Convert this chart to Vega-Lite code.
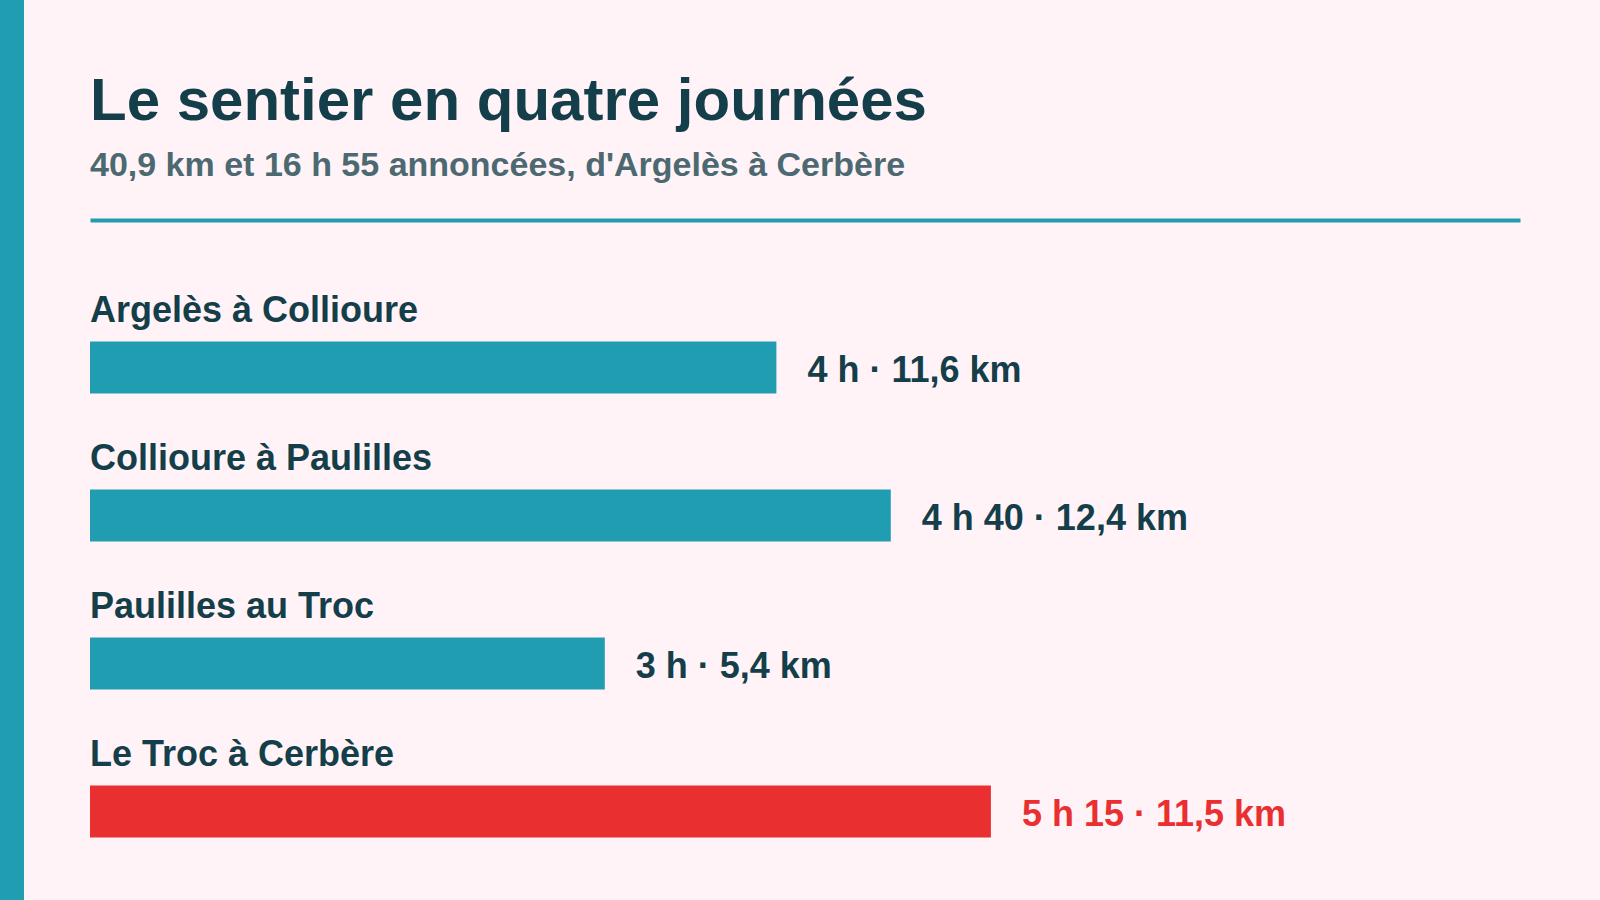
{
  "$schema": "https://vega.github.io/schema/vega-lite/v6.json",
  "background": "#fff3f7",
  "padding": {"left": 0, "top": 0, "right": 80, "bottom": 0},
  "config": {
    "view": {"stroke": null},
    "font": "Liberation Sans"
  },
  "data": {
    "values": [
      {"etape": "Argelès à Collioure", "minutes": 240, "libelle": "4 h · 11,6 km", "plus_longue": "non"},
      {"etape": "Collioure à Paulilles", "minutes": 280, "libelle": "4 h 40 · 12,4 km", "plus_longue": "non"},
      {"etape": "Paulilles au Troc", "minutes": 180, "libelle": "3 h · 5,4 km", "plus_longue": "non"},
      {"etape": "Le Troc à Cerbère", "minutes": 315, "libelle": "5 h 15 · 11,5 km", "plus_longue": "oui"}
    ]
  },
  "spacing": 66,
  "hconcat": [
    {
      "width": 24,
      "height": 900,
      "view": {"fill": "#219db2", "stroke": null},
      "mark": {"type": "point", "opacity": 0},
      "encoding": {}
    },
    {
      "width": 1430,
      "height": 900,
      "title": {
        "text": "Le sentier en quatre journées",
        "subtitle": "40,9 km et 16 h 55 annoncées, d'Argelès à Cerbère",
        "anchor": "start",
        "frame": "group",
        "fontSize": 60,
        "fontWeight": "bold",
        "color": "#143e49",
        "subtitleFontSize": 34,
        "subtitleFontWeight": "bold",
        "subtitleColor": "#4c6971",
        "subtitlePadding": 16,
        "offset": -184
      },
      "encoding": {
        "y": {
          "field": "etape",
          "type": "nominal",
          "sort": null,
          "axis": null,
          "scale": {"range": [293.5, 885.5], "paddingInner": 0, "paddingOuter": 0}
        }
      },
      "layer": [
        {
          "mark": {"type": "bar", "size": 52},
          "encoding": {
            "x": {
              "field": "minutes",
              "type": "quantitative",
              "scale": {"domain": [0, 500], "nice": false},
              "axis": {
                "orient": "top",
                "domain": true,
                "domainColor": "#219db2",
                "domainWidth": 4,
                "ticks": false,
                "labels": false,
                "grid": false,
                "title": null,
                "offset": -220
              }
            },
            "color": {
              "condition": {"test": "datum.plus_longue == 'oui'", "value": "#e92f30"},
              "value": "#219db2"
            }
          }
        },
        {
          "mark": {"type": "text", "align": "left", "baseline": "alphabetic", "dx": 31, "dy": 14, "fontSize": 36, "fontWeight": "bold"},
          "encoding": {
            "x": {"field": "minutes", "type": "quantitative"},
            "text": {"field": "libelle"},
            "color": {
              "condition": {"test": "datum.plus_longue == 'oui'", "value": "#e92f30"},
              "value": "#143e49"
            }
          }
        },
        {
          "mark": {"type": "text", "align": "left", "baseline": "alphabetic", "dy": -46, "fontSize": 36, "fontWeight": "bold", "color": "#143e49"},
          "encoding": {
            "x": {"datum": 0},
            "text": {"field": "etape"}
          }
        }
      ]
    }
  ]
}
